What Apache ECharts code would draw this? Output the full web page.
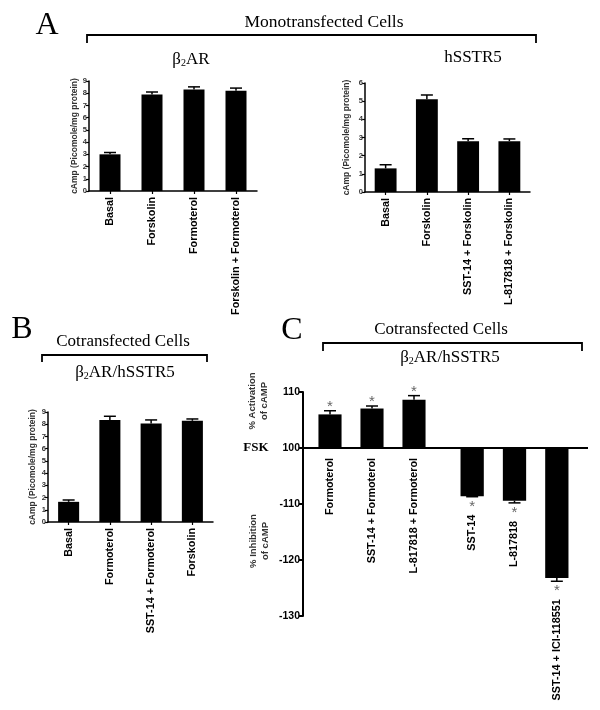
<!DOCTYPE html>
<html>
<head>
<meta charset="utf-8">
<script src="https://cdn.jsdelivr.net/npm/echarts@6/dist/echarts.min.js"></script>
<style>
    html, body { margin: 0; padding: 0; background: #fff; }
    #main { width: 600px; height: 710px; }
</style>
</head>
<body>
<div id="main"></div>
<script>
//数据：A 单转染 β2AR
var aLeftCats = ['Basal', 'Forskolin', 'Formoterol', 'Forskolin + Formoterol'];
var aLeftVals = [3.0, 7.9, 8.3, 8.2];
var aLeftErr = [0.15, 0.2, 0.22, 0.22];

//数据：A 单转染 hSSTR5
var aRightCats = ['Basal', 'Forskolin', 'SST-14 + Forskolin', 'L-817818 + Forskolin'];
var aRightVals = [1.3, 5.1, 2.8, 2.8];
var aRightErr = [0.2, 0.24, 0.13, 0.12];

//数据：B 共转染
var bCats = ['Basal', 'Formoterol', 'SST-14 + Formoterol', 'Forskolin'];
var bVals = [1.65, 8.35, 8.05, 8.28];
var bErr = [0.15, 0.3, 0.3, 0.15];

//数据：C 相对 FSK(100) 的差值
var cActCats = ['Formoterol', 'SST-14 + Formoterol', 'L-817818 + Formoterol'];
var cActVals = [6.0, 7.05, 8.6];
var cActErr = [0.65, 0.45, 0.75];
var cInhCats = ['SST-14', 'L-817818', 'SST-14 + ICI-118551'];
var cInhVals = [-8.6, -9.4, -23.2];
var cInhErr = [0.1, 0.4, 0.6];

var SANS = '"Liberation Sans", Arial, sans-serif';
var SERIF = '"Liberation Serif", "Times New Roman", serif';
var LABEL_SIZE = 10.8;

window.onload = function () {
    var chart = echarts.init(document.getElementById('main'));
    chart.setOption(buildOption());

    //FSK 基线，贯穿 C 的两个网格
    var zy = chart.convertToPixel({yAxisIndex: 3}, 0);
    chart.setOption({graphic: buildGraphic(zy)});
};

//误差线 + 星号 + (可选)标签
//labels 位置：正值柱从 0 线下方开始，负值柱从误差线下方开始
function errSeries(idx, vals, errs, star, labels) {
    return {
        type: 'custom',
        xAxisIndex: idx,
        yAxisIndex: idx,
        z: 5,
        data: vals.map(function (v, i) { return [i, v, errs[i]]; }),
        encode: {x: 0, y: 1},
        renderItem: function (params, api) {
            var i = api.value(0), v = api.value(1), e = api.value(2);
            var dir = v < 0 ? -1 : 1;
            var p0 = api.coord([i, v]);
            var p1 = api.coord([i, v + dir * e]);
            var st = {stroke: '#000', lineWidth: 1.5};
            var children = [
                {type: 'line', shape: {x1: p0[0], y1: p0[1], x2: p1[0], y2: p1[1]}, style: st},
                {type: 'line', shape: {x1: p1[0] - 6, y1: p1[1], x2: p1[0] + 6, y2: p1[1]}, style: st}
            ];
            if (star) {
                children.push({
                    type: 'text', x: p1[0], y: p1[1] - dir * 7 + 3,
                    style: {text: '*', fill: '#666', font: '15px ' + SANS, align: 'center', verticalAlign: 'middle'}
                });
            }
            if (labels) {
                var ly = dir > 0 ? api.coord([i, 0])[1] + 10 : p1[1] + 18;
                children.push({
                    type: 'text', x: p1[0], y: ly, rotation: Math.PI / 2,
                    style: {text: labels[i], fill: '#000', font: 'bold ' + LABEL_SIZE + 'px ' + SANS,
                        align: 'right', verticalAlign: 'middle'}
                });
            }
            return {type: 'group', children: children};
        }
    };
}

function catAxis(idx, cats, margin, showLabel, tick) {
    return {
        type: 'category',
        gridIndex: idx,
        data: cats,
        axisLine: {lineStyle: {color: '#000', width: 1.5}},
        axisTick: {show: tick, alignWithLabel: true, length: 3, lineStyle: {color: '#000', width: 1.2}},
        axisLabel: {
            show: showLabel, rotate: 90, margin: margin, interval: 0,
            fontFamily: SANS, fontWeight: 'bold', fontSize: LABEL_SIZE, color: '#000'
        }
    };
}

function camAxis(idx, max, gap) {
    return {
        type: 'value',
        gridIndex: idx,
        min: 0, max: max, interval: 1,
        name: 'cAmp (Picomole/mg protein)',
        nameLocation: 'middle',
        nameGap: gap,
        nameTextStyle: {fontFamily: SANS, fontWeight: 'bold', fontSize: 8.5, color: '#333'},
        splitLine: {show: false},
        axisLine: {show: true, lineStyle: {color: '#000', width: 1.5}},
        axisTick: {show: true, length: 3, lineStyle: {color: '#000', width: 1.2}},
        axisLabel: {margin: 2, fontFamily: SANS, fontWeight: 'bold', fontSize: 7.5, color: '#333'}
    };
}

function barSeries(idx, vals, width) {
    return {
        type: 'bar',
        xAxisIndex: idx,
        yAxisIndex: idx,
        data: vals,
        barWidth: width,
        itemStyle: {color: '#000'}
    };
}

//C 轴标签：0 -> 100，负值 -> -1xx
function cLabel(v) {
    if (v === 0) return '100';
    return v > 0 ? String(100 + v) : '-' + (100 - v);
}

function buildOption() {
    return {
        animation: false,
        backgroundColor: '#fff',
        grid: [
            {left: 89, top: 81, width: 168, height: 110, outerBoundsMode: 'none'},
            {left: 365, top: 83, width: 165, height: 109, outerBoundsMode: 'none'},
            {left: 48, top: 412, width: 165, height: 110, outerBoundsMode: 'none'},
            {left: 309, top: 392, width: 126, height: 224, outerBoundsMode: 'none'},
            {left: 451, top: 392, width: 127, height: 224, outerBoundsMode: 'none'}
        ],
        xAxis: [
            catAxis(0, aLeftCats, 6, true, true),
            catAxis(1, aRightCats, 6, true, true),
            catAxis(2, bCats, 6, true, true),
            catAxis(3, cActCats, 10, false, false),
            catAxis(4, cInhCats, 10, false, false)
        ],
        yAxis: [
            camAxis(0, 9, 10),
            camAxis(1, 6, 14),
            camAxis(2, 9, 11),
            {
                type: 'value', gridIndex: 3,
                min: -30, max: 10, interval: 10,
                offset: 6,
                splitLine: {show: false},
                axisLine: {show: true, lineStyle: {color: '#000', width: 2}},
                axisTick: {show: true, length: 4, lineStyle: {color: '#000', width: 2}},
                axisLabel: {
                    margin: 3, formatter: cLabel,
                    fontFamily: SANS, fontWeight: 'bold', fontSize: 10.5, color: '#000'
                }
            },
            {
                type: 'value', gridIndex: 4,
                min: -30, max: 10, interval: 10,
                show: false
            }
        ],
        series: [
            barSeries(0, aLeftVals, '50%'),
            errSeries(0, aLeftVals, aLeftErr, false, null),
            barSeries(1, aRightVals, '53%'),
            errSeries(1, aRightVals, aRightErr, false, null),
            barSeries(2, bVals, '51%'),
            errSeries(2, bVals, bErr, false, null),
            barSeries(3, cActVals, '55%'),
            errSeries(3, cActVals, cActErr, true, cActCats),
            barSeries(4, cInhVals, '55%'),
            errSeries(4, cInhVals, cInhErr, true, cInhCats)
        ]
    };
}

function txt(x, y, text, font, extra) {
    var o = {
        type: 'text', x: x, y: y, z: 10,
        style: {text: text, font: font, fill: '#000', align: 'center', verticalAlign: 'middle'}
    };
    if (extra) {
        for (var k in extra) o.style[k] = extra[k];
    }
    return o;
}

//β2 下标
var betaRich = {
    a: {fontFamily: SERIF, fontSize: 17, color: '#000'},
    s: {fontFamily: SERIF, fontSize: 10, color: '#000', padding: [6, 0, 0, 0]}
};

function bracket(x1, x2, y, drop) {
    return {
        type: 'polyline', z: 10,
        shape: {points: [[x1, y + drop], [x1, y], [x2, y], [x2, y + drop]]},
        style: {stroke: '#000', lineWidth: 1.8, fill: null}
    };
}

function buildGraphic(zy) {
    var big = '32px ' + SERIF;
    var mid = '17px ' + SERIF;
    return [
        //面板字母
        txt(47, 26, 'A', big),
        txt(22, 330, 'B', big),
        txt(292, 331, 'C', big),

        //A
        txt(324, 22, 'Monotransfected Cells', '17.5px ' + SERIF),
        bracket(87, 536, 35, 8),
        txt(191, 60, '{a|β}{s|2}{a|AR}', mid, {rich: betaRich}),
        txt(473, 58, 'hSSTR5', mid),

        //B
        txt(123, 342, 'Cotransfected Cells', mid),
        bracket(42, 207, 355, 7),
        txt(125, 373, '{a|β}{s|2}{a|AR/hSSTR5}', mid, {rich: betaRich}),

        //C
        txt(441, 330, 'Cotransfected Cells', mid),
        bracket(323, 582, 343, 8),
        txt(450, 358, '{a|β}{s|2}{a|AR/hSSTR5}', mid, {rich: betaRich}),
        txt(256, 448, 'FSK', 'bold 13px ' + SERIF),
        {
            type: 'text', x: 258, y: 401, rotation: Math.PI / 2, z: 10,
            style: {text: '% Activation\nof cAMP', font: 'bold 9.5px ' + SANS, fill: '#333',
                align: 'center', verticalAlign: 'middle', lineHeight: 12}
        },
        {
            type: 'text', x: 259, y: 541, rotation: Math.PI / 2, z: 10,
            style: {text: '% Inhibition\nof cAMP', font: 'bold 9.5px ' + SANS, fill: '#333',
                align: 'center', verticalAlign: 'middle', lineHeight: 12}
        },
        {
            type: 'line', z: 10,
            shape: {x1: 303, y1: zy, x2: 588, y2: zy},
            style: {stroke: '#000', lineWidth: 2}
        }
    ];
}
</script>
</body>
</html>
